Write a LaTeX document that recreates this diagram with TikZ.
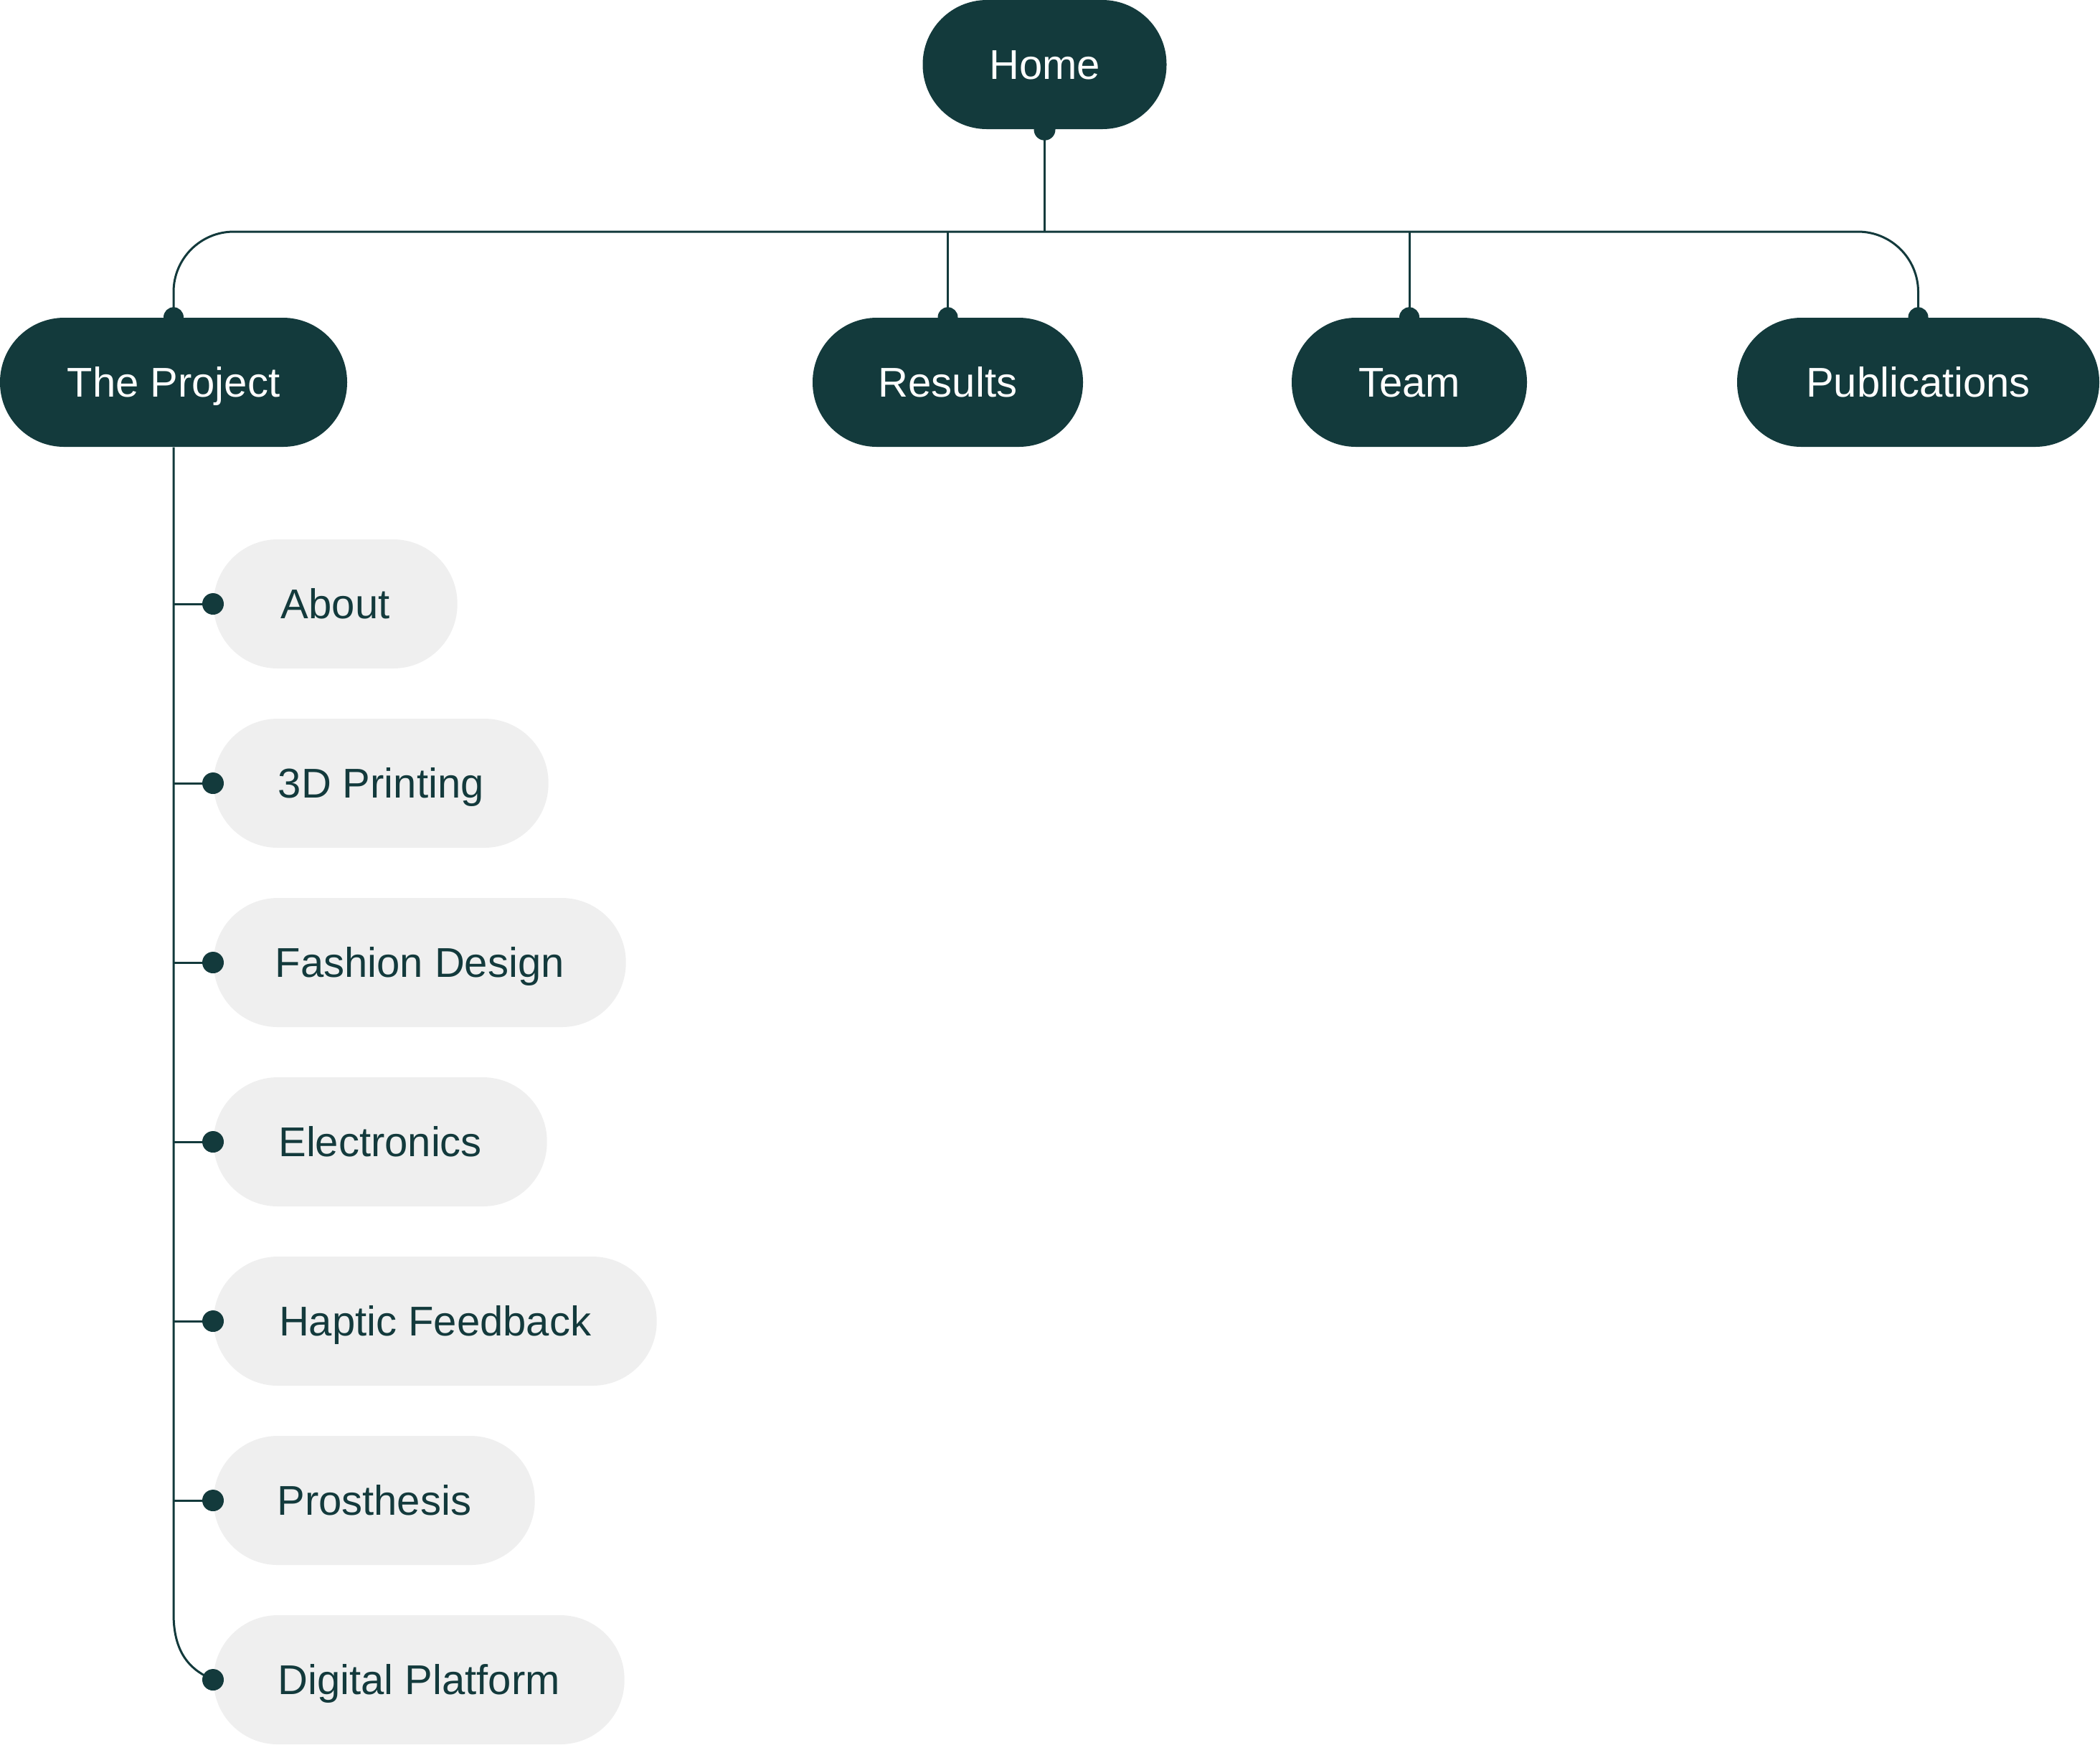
\documentclass[tikz,border=0pt]{standalone}
\usepackage{fontspec}
\setmainfont{Liberation Sans}
\definecolor{teal}{HTML}{133A3C}
\definecolor{pill}{HTML}{EFEFEF}
\begin{document}
\begin{tikzpicture}[
  topnode/.style={rectangle, fill=teal, text=white, rounded corners=0.895cm,
    minimum height=1.8cm, inner sep=0pt, text height=0.416cm, text depth=0cm,
    font=\fontsize{16.5}{18}\selectfont},
  subnode/.style={rectangle, fill=pill, text=teal, rounded corners=0.895cm,
    minimum height=1.8cm, inner sep=0pt, text height=0.416cm, text depth=0cm,
    anchor=west, font=\fontsize{16.5}{18}\selectfont},
  conn/.style={draw=teal, line width=0.03cm},
  dot/.style={fill=teal}
]
\useasboundingbox (0,0) rectangle (29.28,-24.32);

% top level
\node[topnode, minimum width=3.40cm] (home) at (14.565,-0.90) {Home};
\node[topnode, minimum width=4.84cm] (proj) at (2.42,-5.33) {The Project};
\node[topnode, minimum width=3.77cm] (res) at (13.215,-5.33) {Results};
\node[topnode, minimum width=3.28cm] (team) at (19.65,-5.33) {Team};
\node[topnode, minimum width=5.05cm] (pub) at (26.745,-5.33) {Publications};

\coordinate (bus) at (0,-3.23);

% bus connectors
\draw[conn] (home.south) -- (home.south |- bus);
\draw[conn, rounded corners=0.84cm] (proj.north) |- (pub.north |- bus) -- (pub.north);
\draw[conn] (res.north) -- (res.north |- bus);
\draw[conn] (team.north) -- (team.north |- bus);

\fill[dot] (home.south) circle (0.15);
\fill[dot] (proj.north) circle (0.14);
\fill[dot] (res.north) circle (0.14);
\fill[dot] (team.north) circle (0.14);
\fill[dot] (pub.north) circle (0.14);

% children
\node[subnode, minimum width=3.40cm] (about) at (2.97,-8.42) {About};
\node[subnode, minimum width=4.67cm] (print) at (2.97,-10.92) {3D Printing};
\node[subnode, minimum width=5.75cm] (fashion) at (2.97,-13.42) {Fashion Design};
\node[subnode, minimum width=4.65cm] (elec) at (2.97,-15.92) {Electronics};
\node[subnode, minimum width=6.18cm] (haptic) at (2.97,-18.42) {Haptic Feedback};
\node[subnode, minimum width=4.48cm] (pros) at (2.97,-20.92) {Prosthesis};
\node[subnode, minimum width=5.73cm] (digital) at (2.97,-23.42) {Digital Platform};

\coordinate (trunkend) at ([yshift=0.92cm]proj.south |- digital.west);
\draw[conn] (proj.south) -- (trunkend)
  .. controls ([yshift=-0.6cm]trunkend) and ([xshift=-0.27cm,yshift=0.12cm]digital.west) .. (digital.west);

\foreach \c in {about,print,fashion,elec,haptic,pros}{
  \draw[conn] (proj.south |- \c.west) -- (\c.west);
  \fill[dot] (\c.west) circle (0.15);
}
\fill[dot] (digital.west) circle (0.15);
\end{tikzpicture}
\end{document}
